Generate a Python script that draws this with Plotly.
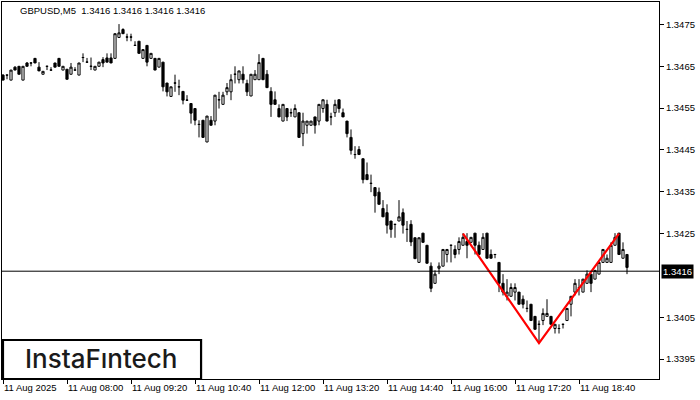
import pandas as pd
import plotly.graph_objects as go

# ---- data (GBPUSD M5, 11 Aug 2025) ----
start_time = "2025-08-11 06:40"
opens = [1.34629, 1.34629, 1.34617, 1.34648, 1.34650, 1.34617, 1.34658, 1.34658, 1.34669, 1.34648,
         1.34631, 1.34650, 1.34641, 1.34658, 1.34669, 1.34641, 1.34643, 1.34631, 1.34641, 1.34629,
         1.34671, 1.34660, 1.34650, 1.34641, 1.34650, 1.34666, 1.34670, 1.34670, 1.34669, 1.34719,
         1.34738, 1.34720, 1.34720, 1.34700, 1.34710, 1.34669, 1.34700, 1.34669, 1.34669, 1.34648,
         1.34660, 1.34610, 1.34578, 1.34610, 1.34601, 1.34590, 1.34569, 1.34561, 1.34549, 1.34511,
         1.34521, 1.34469, 1.34521, 1.34519, 1.34570, 1.34559, 1.34589, 1.34589, 1.34631, 1.34618,
         1.34631, 1.34609, 1.34579, 1.34618, 1.34618, 1.34669, 1.34631, 1.34590, 1.34570, 1.34549,
         1.34519, 1.34549, 1.34539, 1.34529, 1.34539, 1.34489, 1.34509, 1.34509, 1.34529, 1.34519,
         1.34549, 1.34559, 1.34529, 1.34539, 1.34570, 1.34539, 1.34519, 1.34480, 1.34439, 1.34451,
         1.34429, 1.34391, 1.34370, 1.34360, 1.34349, 1.34310, 1.34300, 1.34280, 1.34272, 1.34280,
         1.34300, 1.34260, 1.34272, 1.34240, 1.34181, 1.34251, 1.34222, 1.34172, 1.34131, 1.34167,
         1.34172, 1.34200, 1.34222, 1.34212, 1.34212, 1.34222, 1.34231, 1.34229, 1.34251, 1.34222,
         1.34212, 1.34251, 1.34200, 1.34200, 1.34181, 1.34131, 1.34100, 1.34100, 1.34110, 1.34110,
         1.34093, 1.34071, 1.34081, 1.34052, 1.34033, 1.34042, 1.34052, 1.34052, 1.34023, 1.34023,
         1.34033, 1.34042, 1.34081, 1.34110, 1.34121, 1.34110, 1.34131, 1.34153, 1.34141, 1.34153,
         1.34181, 1.34181, 1.34181, 1.34222, 1.34251, 1.34191, 1.34200]
highs = [1.34631, 1.34629, 1.34641, 1.34650, 1.34650, 1.34650, 1.34660, 1.34658, 1.34669, 1.34660,
         1.34638, 1.34650, 1.34648, 1.34658, 1.34669, 1.34650, 1.34643, 1.34658, 1.34648, 1.34658,
         1.34681, 1.34670, 1.34671, 1.34650, 1.34660, 1.34672, 1.34681, 1.34681, 1.34728, 1.34751,
         1.34741, 1.34728, 1.34728, 1.34710, 1.34710, 1.34690, 1.34700, 1.34681, 1.34669, 1.34669,
         1.34660, 1.34610, 1.34601, 1.34630, 1.34618, 1.34590, 1.34581, 1.34561, 1.34549, 1.34521,
         1.34521, 1.34531, 1.34531, 1.34581, 1.34589, 1.34589, 1.34610, 1.34631, 1.34650, 1.34639,
         1.34650, 1.34618, 1.34631, 1.34641, 1.34679, 1.34669, 1.34641, 1.34600, 1.34590, 1.34559,
         1.34559, 1.34549, 1.34549, 1.34559, 1.34539, 1.34539, 1.34519, 1.34519, 1.34529, 1.34559,
         1.34570, 1.34570, 1.34539, 1.34570, 1.34570, 1.34549, 1.34519, 1.34499, 1.34459, 1.34459,
         1.34429, 1.34420, 1.34391, 1.34360, 1.34360, 1.34330, 1.34320, 1.34280, 1.34272, 1.34330,
         1.34310, 1.34280, 1.34282, 1.34240, 1.34240, 1.34251, 1.34222, 1.34181, 1.34162, 1.34181,
         1.34212, 1.34212, 1.34222, 1.34222, 1.34241, 1.34251, 1.34251, 1.34241, 1.34251, 1.34231,
         1.34251, 1.34251, 1.34212, 1.34200, 1.34181, 1.34153, 1.34141, 1.34131, 1.34131, 1.34110,
         1.34102, 1.34090, 1.34081, 1.34052, 1.34042, 1.34071, 1.34093, 1.34052, 1.34033, 1.34033,
         1.34033, 1.34071, 1.34100, 1.34141, 1.34141, 1.34141, 1.34162, 1.34153, 1.34162, 1.34181,
         1.34212, 1.34200, 1.34229, 1.34251, 1.34251, 1.34229, 1.34200]
lows = [1.34617, 1.34619, 1.34617, 1.34641, 1.34631, 1.34617, 1.34650, 1.34650, 1.34658, 1.34639,
        1.34631, 1.34641, 1.34641, 1.34648, 1.34650, 1.34641, 1.34619, 1.34631, 1.34641, 1.34629,
        1.34660, 1.34660, 1.34641, 1.34641, 1.34650, 1.34648, 1.34660, 1.34658, 1.34669, 1.34719,
        1.34728, 1.34710, 1.34710, 1.34700, 1.34681, 1.34669, 1.34650, 1.34669, 1.34641, 1.34648,
        1.34590, 1.34578, 1.34578, 1.34589, 1.34581, 1.34559, 1.34569, 1.34513, 1.34509, 1.34480,
        1.34480, 1.34469, 1.34509, 1.34509, 1.34549, 1.34559, 1.34581, 1.34569, 1.34609, 1.34609,
        1.34609, 1.34579, 1.34579, 1.34618, 1.34618, 1.34618, 1.34599, 1.34529, 1.34559, 1.34529,
        1.34519, 1.34519, 1.34529, 1.34529, 1.34480, 1.34459, 1.34489, 1.34509, 1.34489, 1.34509,
        1.34539, 1.34519, 1.34509, 1.34529, 1.34539, 1.34529, 1.34480, 1.34439, 1.34429, 1.34439,
        1.34370, 1.34379, 1.34349, 1.34300, 1.34320, 1.34290, 1.34250, 1.34240, 1.34240, 1.34280,
        1.34250, 1.34230, 1.34220, 1.34190, 1.34181, 1.34229, 1.34179, 1.34110, 1.34131, 1.34153,
        1.34172, 1.34181, 1.34181, 1.34191, 1.34200, 1.34222, 1.34191, 1.34229, 1.34200, 1.34200,
        1.34212, 1.34191, 1.34191, 1.34191, 1.34110, 1.34102, 1.34090, 1.34100, 1.34090, 1.34081,
        1.34071, 1.34062, 1.34042, 1.34021, 1.33988, 1.34031, 1.34052, 1.34033, 1.34011, 1.34011,
        1.34023, 1.34042, 1.34052, 1.34102, 1.34102, 1.34110, 1.34131, 1.34110, 1.34141, 1.34153,
        1.34181, 1.34181, 1.34181, 1.34222, 1.34200, 1.34191, 1.34153]
closes = [1.34617, 1.34629, 1.34641, 1.34641, 1.34631, 1.34650, 1.34650, 1.34658, 1.34658, 1.34639,
          1.34638, 1.34650, 1.34641, 1.34648, 1.34650, 1.34650, 1.34619, 1.34648, 1.34641, 1.34658,
          1.34671, 1.34660, 1.34650, 1.34650, 1.34660, 1.34658, 1.34660, 1.34658, 1.34728, 1.34730,
          1.34728, 1.34720, 1.34720, 1.34700, 1.34681, 1.34690, 1.34660, 1.34681, 1.34641, 1.34669,
          1.34601, 1.34589, 1.34601, 1.34610, 1.34601, 1.34569, 1.34569, 1.34538, 1.34521, 1.34511,
          1.34480, 1.34531, 1.34509, 1.34581, 1.34570, 1.34581, 1.34599, 1.34618, 1.34631, 1.34639,
          1.34618, 1.34589, 1.34631, 1.34631, 1.34659, 1.34618, 1.34599, 1.34559, 1.34559, 1.34529,
          1.34559, 1.34529, 1.34539, 1.34549, 1.34480, 1.34519, 1.34519, 1.34519, 1.34509, 1.34559,
          1.34570, 1.34519, 1.34529, 1.34559, 1.34549, 1.34529, 1.34489, 1.34449, 1.34439, 1.34439,
          1.34379, 1.34379, 1.34370, 1.34340, 1.34320, 1.34290, 1.34270, 1.34260, 1.34272, 1.34290,
          1.34270, 1.34260, 1.34230, 1.34190, 1.34240, 1.34229, 1.34179, 1.34119, 1.34153, 1.34172,
          1.34212, 1.34212, 1.34222, 1.34200, 1.34231, 1.34241, 1.34222, 1.34241, 1.34222, 1.34200,
          1.34241, 1.34191, 1.34191, 1.34200, 1.34131, 1.34110, 1.34110, 1.34121, 1.34121, 1.34081,
          1.34081, 1.34071, 1.34042, 1.34021, 1.34033, 1.34059, 1.34059, 1.34033, 1.34033, 1.34023,
          1.34033, 1.34071, 1.34100, 1.34131, 1.34121, 1.34141, 1.34153, 1.34131, 1.34162, 1.34181,
          1.34212, 1.34191, 1.34222, 1.34241, 1.34200, 1.34212, 1.34169]

# pattern (V) line: bar index and price
pattern_idx = [115, 134, 154]
pattern_price = [1.34250, 1.33988, 1.34250]

current_price = 1.3416
title_text = "GBPUSD,M5\u00a0\u00a01.3416 1.3416 1.3416 1.3416"

tick_times = ["2025-08-11 06:40", "2025-08-11 08:00", "2025-08-11 09:20", "2025-08-11 10:40",
              "2025-08-11 12:00", "2025-08-11 13:20", "2025-08-11 14:40", "2025-08-11 16:00",
              "2025-08-11 17:20", "2025-08-11 18:40"]
tick_labels = ["11 Aug 2025", "11 Aug 08:00", "11 Aug 09:20", "11 Aug 10:40", "11 Aug 12:00",
               "11 Aug 13:20", "11 Aug 14:40", "11 Aug 16:00", "11 Aug 17:20", "11 Aug 18:40"]
price_ticks = [1.3395, 1.3405, 1.3425, 1.3435, 1.3445, 1.3455, 1.3465, 1.3475]

times = pd.date_range(start_time, periods=len(opens), freq="5min")
pattern_times = [times[i] for i in pattern_idx]

FONT = "Liberation Sans, Arial, sans-serif"

fig = go.Figure()
fig.add_trace(go.Candlestick(
    x=times, open=opens, high=highs, low=lows, close=closes,
    increasing=dict(line=dict(color="black", width=1), fillcolor="white"),
    decreasing=dict(line=dict(color="black", width=1), fillcolor="black"),
    whiskerwidth=0, hoverinfo="skip", showlegend=False,
))
fig.add_trace(go.Scatter(
    x=pattern_times, y=pattern_price, mode="lines",
    line=dict(color="#ff0000", width=2.2), hoverinfo="skip", showlegend=False,
))

fig.add_shape(type="line", xref="paper", x0=0, x1=1, yref="y", y0=current_price, y1=current_price,
              line=dict(color="black", width=1))

fig.add_annotation(xref="paper", x=1, xanchor="left", xshift=2, yref="y", y=current_price,
                   text="1.3416", showarrow=False, bgcolor="black",
                   font=dict(family=FONT, size=9.5, color="white"), borderpad=1)

fig.add_annotation(xref="paper", yref="paper", x=0.024, y=0.977, xanchor="left", yanchor="middle",
                   text=title_text, showarrow=False, font=dict(family=FONT, size=9.5, color="black"))

# logo
fig.add_shape(type="rect", xref="paper", yref="paper", x0=0.0015, x1=0.3030, y0=0.0, y1=0.1034,
              line=dict(color="black", width=2.2), fillcolor="white", layer="above")
fig.add_annotation(xref="paper", yref="paper", x=0.152, y=0.054, xanchor="center", yanchor="middle",
                   text="InstaF\u0131ntech", showarrow=False,
                   font=dict(family="Inter, Open Sans, sans-serif", size=26, color="#1a1a1a", weight=500))

fig.update_layout(
    width=700, height=400,
    margin=dict(l=2, r=41, t=2, b=21, autoexpand=False),
    paper_bgcolor="white", plot_bgcolor="white",
    showlegend=False, boxgap=0.22, hovermode=False,
    xaxis=dict(
        type="date", range=["2025-08-11 06:38:45", "2025-08-11 20:20"],
        rangeslider=dict(visible=False), automargin=False,
        tickmode="array", tickvals=tick_times, ticktext=tick_labels, tickangle=0,
        ticks="outside", ticklen=4, tickcolor="black",
        ticklabelposition="outside right",
        showgrid=False, zeroline=False,
        showline=True, linecolor="black", linewidth=1, mirror=True,
        tickfont=dict(family=FONT, size=9.5, color="black"),
    ),
    yaxis=dict(
        side="right", range=[1.339022, 1.348038], automargin=False,
        tickmode="array", tickvals=price_ticks, tickformat=".4f",
        ticks="outside", ticklen=4, tickcolor="black",
        showgrid=False, zeroline=False,
        showline=True, linecolor="black", linewidth=1, mirror=True,
        tickfont=dict(family=FONT, size=9.5, color="black"),
    ),
)

fig.write_html("out.html", config={"displayModeBar": False},
               post_script="document.body.style.margin='0';")
